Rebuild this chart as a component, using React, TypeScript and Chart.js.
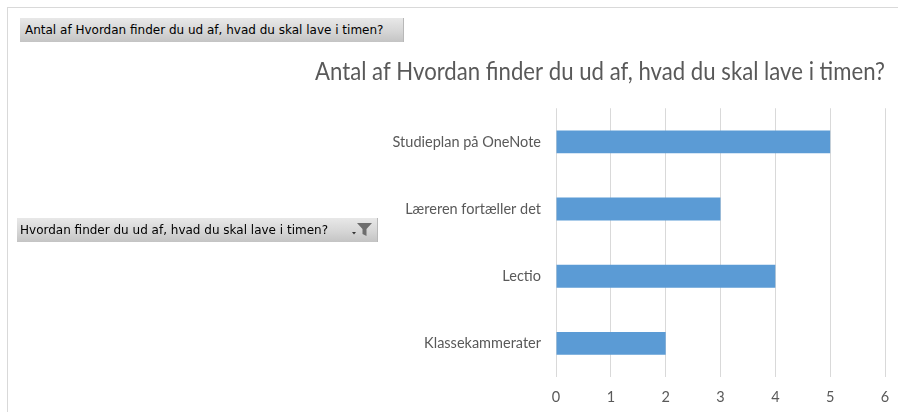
import React, { useEffect, useRef } from "react";
import { Chart, registerables } from "chart.js";

Chart.register(...registerables);

const titleText = "Antal af Hvordan finder du ud af, hvad du skal lave i timen?";
const fieldLabel = "Hvordan finder du ud af, hvad du skal lave i timen?";
const categories = ["Studieplan på OneNote", "Læreren fortæller det", "Lectio", "Klassekammerater"];
const counts = [5, 3, 4, 2];
const xTicks = [0, 1, 2, 3, 4, 5, 6];

const FONT = "Lato, 'Open Sans', sans-serif";

export default function App() {
  const ref = useRef<HTMLCanvasElement | null>(null);

  useEffect(() => {
    if (!ref.current) return;
    const chart = new Chart(ref.current, {
      type: "bar",
      data: {
        labels: categories,
        datasets: [
          {
            label: titleText,
            data: counts,
            backgroundColor: "#5b9bd5",
            borderWidth: 0,
            categoryPercentage: 1,
            barPercentage: 0.34,
          },
        ],
      },
      options: {
        indexAxis: "y",
        animation: false,
        responsive: false,
        layout: { padding: { left: 315, right: 13, top: 0, bottom: 0 } },
        plugins: {
          legend: { display: false },
          tooltip: { enabled: false },
          title: {
            display: true,
            text: titleText,
            align: "start",
            color: "#595959",
            font: { family: FONT, size: 24.8, weight: "normal" },
            padding: { top: 57.2, bottom: 21.3 },
          },
        },
        scales: {
          x: {
            min: 0,
            max: 6,
            afterBuildTicks: (scale: any) => {
              scale.ticks = xTicks.map((v) => ({ value: v }));
            },
            afterFit: (scale: any) => {
              scale.height = 35;
            },
            grid: { color: "#d9d9d9", lineWidth: 1, drawTicks: false },
            border: { display: false },
            ticks: {
              color: "#595959",
              font: { family: FONT, size: 14.5, lineHeight: "34px" },
              padding: 3,
              stepSize: 1,
            },
          },
          y: {
            afterFit: (scale: any) => {
              scale.width = 241;
            },
            grid: { display: false, drawTicks: false },
            border: { display: false },
            ticks: {
              color: "#595959",
              font: { family: FONT, size: 14.5 },
              padding: 15,
            },
          },
        },
      },
    });
    return () => chart.destroy();
  }, []);

  const btnBase: React.CSSProperties = {
    position: "absolute",
    boxSizing: "border-box",
    background: "linear-gradient(to bottom, #e8e8e8 0%, #d6d6d6 55%, #c4c4c4 100%)",
    borderRight: "1px solid #b8b8b8",
    fontFamily: "'DejaVu Sans', Verdana, sans-serif",
    fontSize: 12,
    color: "#000",
    lineHeight: "24px",
    paddingLeft: 5,
    whiteSpace: "nowrap",
    overflow: "hidden",
  };

  return (
    <div style={{ position: "absolute", left: 0, top: 0, width: 898, height: 412, overflow: "hidden", background: "#fff" }}>
      <canvas ref={ref} width={898} height={412} style={{ position: "absolute", left: 0, top: 0, width: 898, height: 412 }} />
      <div
        style={{
          position: "absolute",
          left: 7,
          top: 7,
          width: 891,
          height: 405,
          boxSizing: "border-box",
          borderTop: "1px solid #d9d9d9",
          borderLeft: "1px solid #d9d9d9",
          pointerEvents: "none",
        }}
      />
      <div style={{ ...btnBase, left: 20, top: 18, width: 384, height: 24 }}>{titleText}</div>
      <div style={{ ...btnBase, left: 17, top: 218, width: 361, height: 24, paddingLeft: 3 }}>
        {fieldLabel}
        <svg width="24" height="16" viewBox="0 0 24 16" style={{ position: "absolute", left: 333, top: 4 }}>
          <polygon points="2,10 6,10 4,12.5" fill="#333" />
          <polygon points="7,1 22,1 16.5,7 16.5,14 12.5,12 12.5,7" fill="#6e6e6e" />
        </svg>
      </div>
    </div>
  );
}
